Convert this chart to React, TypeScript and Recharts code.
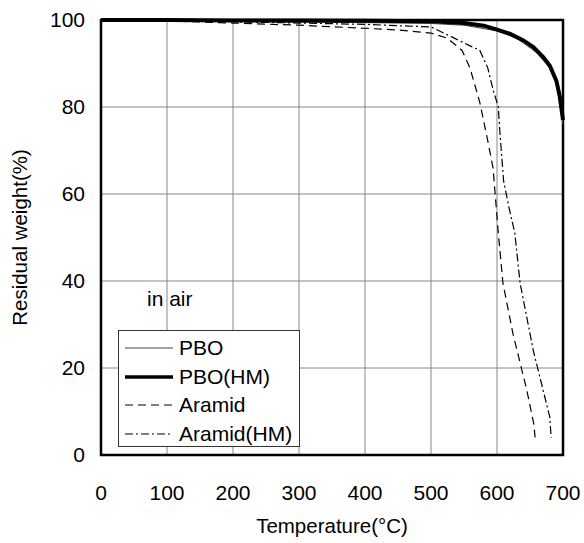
import { LineChart, Line, XAxis, YAxis, CartesianGrid, ReferenceArea } from 'recharts';

// (temperature in °C, residual weight in %)
const pboTemp = [0, 100, 200, 300, 400, 500, 550, 600, 630, 660, 680, 690, 700];
const pboWeight = [100, 99.9, 99.7, 99.5, 99.4, 99.2, 98.8, 97.5, 95.8, 92.5, 89, 85.5, 76];

const pboHmTemp = [0, 100, 200, 300, 400, 500, 550, 580, 600, 620, 640, 655, 670, 680, 690, 695, 700];
const pboHmWeight = [100, 100, 99.9, 99.9, 99.8, 99.7, 99.3, 98.7, 97.8, 96.8, 95.3, 93.8, 91.5, 89.5, 86, 82.5, 77];

const aramidTemp = [0, 100, 200, 300, 400, 450, 500, 525, 547, 559, 574, 585, 594, 602, 609, 624, 645, 656, 658];
const aramidWeight = [100, 99.8, 99.3, 98.8, 98.1, 97.7, 97, 95.8, 93, 89, 81, 73, 66, 51, 39.5, 28, 15, 7, 3.4];

const aramidHmTemp = [0, 100, 200, 300, 400, 500, 533, 560, 574, 586, 594, 602, 604, 610, 618, 627, 635, 655, 680, 682];
const aramidHmWeight = [100, 99.9, 99.6, 99.3, 99, 98.4, 96, 94, 93, 89, 84, 80, 75, 63, 57, 51, 39.5, 24, 8.7, 4];

const xTicks = [0, 100, 200, 300, 400, 500, 600, 700];
const yTicks = [0, 20, 40, 60, 80, 100];

const toPoints = (t: number[], w: number[]) => t.map((x, i) => ({ temp: x, weight: w[i] }));

const SERIES = [
  { name: 'PBO', data: toPoints(pboTemp, pboWeight), stroke: '#444', width: 1, dash: undefined },
  { name: 'PBO(HM)', data: toPoints(pboHmTemp, pboHmWeight), stroke: '#000', width: 4, dash: undefined },
  { name: 'Aramid', data: toPoints(aramidTemp, aramidWeight), stroke: '#000', width: 1.2, dash: '8 5' },
  { name: 'Aramid(HM)', data: toPoints(aramidHmTemp, aramidHmWeight), stroke: '#000', width: 1.2, dash: '8 3 2 3' }
];

const FONT = '"Liberation Sans", Arial, sans-serif';

function LegendBox() {
  return (
    <div
      style={{
        position: 'absolute',
        left: 118,
        top: 330,
        width: 182,
        height: 117,
        boxSizing: 'border-box',
        border: '1px solid #333',
        background: '#fff',
        padding: '3px 0 0 6px',
        fontFamily: FONT,
        fontSize: 21,
        color: '#000'
      }}
    >
      {SERIES.map((s) => (
        <div key={s.name} style={{ display: 'flex', alignItems: 'center', height: 28.5 }}>
          <svg width={50} height={10} style={{ marginRight: 4 }}>
            <line x1={0} y1={5} x2={48} y2={5} stroke={s.stroke} strokeWidth={s.width === 4 ? 3.5 : 1} strokeDasharray={s.dash} />
          </svg>
          <span>{s.name}</span>
        </div>
      ))}
    </div>
  );
}

export default function App() {
  return (
    <div style={{ position: 'absolute', left: 0, top: 0, width: 584, height: 543, background: '#fff' }}>
      <LineChart width={584} height={543} margin={{ top: 20, right: 21, bottom: 0, left: 0 }}>
        <CartesianGrid stroke="#888" strokeWidth={1} />
        <XAxis
          dataKey="temp"
          type="number"
          domain={[0, 700]}
          ticks={xTicks}
          allowDuplicatedCategory={false}
          height={88}
          tickLine={false}
          axisLine={false}
          tickSize={0}
          tickMargin={30}
          tick={{ fill: '#000', fontSize: 21, fontFamily: FONT }}
          label={{ value: 'Temperature(°C)', position: 'insideBottom', offset: 10, fill: '#000', fontSize: 20.5, fontFamily: FONT }}
        />
        <YAxis
          dataKey="weight"
          type="number"
          domain={[0, 100]}
          ticks={yTicks}
          width={101}
          tickLine={false}
          axisLine={false}
          tickSize={0}
          tickMargin={16}
          tick={{ fill: '#000', fontSize: 21, fontFamily: FONT }}
          label={{
            value: 'Residual weight(%)',
            angle: -90,
            position: 'insideLeft',
            offset: 20,
            fill: '#000',
            fontSize: 20.5,
            fontFamily: FONT,
            style: { textAnchor: 'middle' }
          }}
        />
        {SERIES.map((s) => (
          <Line
            key={s.name}
            data={s.data}
            dataKey="weight"
            name={s.name}
            type="linear"
            stroke={s.stroke}
            strokeWidth={s.width}
            strokeDasharray={s.dash}
            dot={false}
            isAnimationActive={false}
          />
        ))}
        <ReferenceArea x1={0} x2={700} y1={0} y2={100} fill="none" fillOpacity={0} stroke="#000" strokeWidth={2.5} />
      </LineChart>
      <LegendBox />
      <div style={{ position: 'absolute', left: 147, top: 287, fontFamily: FONT, fontSize: 21, color: '#000' }}>in air</div>
    </div>
  );
}
